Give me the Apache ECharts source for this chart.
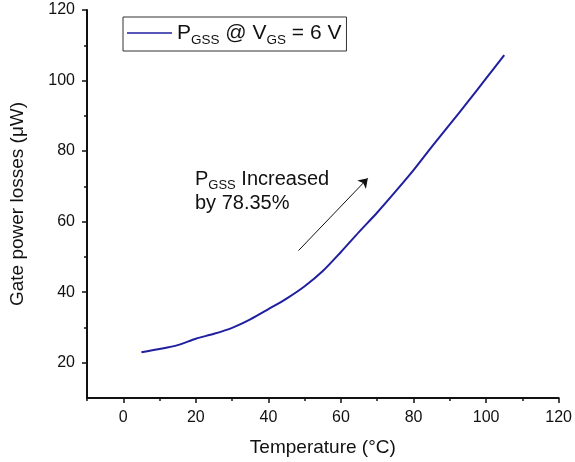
<!DOCTYPE html>
<html>
<head>
<meta charset="utf-8">
<script src="https://cdn.jsdelivr.net/npm/echarts@6/dist/echarts.min.js"></script>
<style>html,body{margin:0;padding:0;background:#fff}#c{width:575px;height:462px}</style>
</head>
<body>
<div id="c"></div>
<script>
var temperature = [5, 10, 15, 20, 25, 30, 35, 40, 45, 50, 55, 60, 65, 70, 75, 80, 85, 90, 95, 100, 105];
var powerLoss = [23.0, 23.9, 25.0, 26.8, 28.2, 29.9, 32.3, 35.2, 38.2, 41.7, 46.0, 51.4, 57.1, 62.6, 68.5, 74.6, 81.2, 87.6, 94.0, 100.6, 107.2];
var xTicks = [0, 20, 40, 60, 80, 100, 120];
var xMinorTicks = [-10, 10, 30, 50, 70, 90, 110];
var yTicks = [20, 40, 60, 80, 100, 120];
var yMinorTicks = [30, 50, 70, 90, 110];
var arrowStart = [48.3, 51.8];
var arrowEnd = [67.4, 72.3];

var FONT = 'Liberation Sans, Arial, sans-serif';
var chart = echarts.init(document.getElementById('c'));
var seriesData = temperature.map(function (t, i) { return [t, powerLoss[i]]; });

var richStyles = {
  n: { fontSize: 21, fontFamily: FONT, color: '#111', lineHeight: 24, verticalAlign: 'middle' },
  s: { fontSize: 13.5, fontFamily: FONT, color: '#111', lineHeight: 13, verticalAlign: 'top', padding: [12, 0, 0, 0] }
};
var richAnno = {
  n: { fontSize: 20, fontFamily: FONT, color: '#111', lineHeight: 24, verticalAlign: 'middle' },
  s: { fontSize: 13, fontFamily: FONT, color: '#111', lineHeight: 13, verticalAlign: 'top', padding: [12, 0, 0, 0] }
};

function baseX(extra) {
  return Object.assign({
    type: 'value', min: -10, max: 120, gridIndex: 0, position: 'bottom', offset: 0,
    splitLine: { show: false }
  }, extra);
}
function baseY(extra) {
  return Object.assign({
    type: 'value', min: 10, max: 120, gridIndex: 0, position: 'left', offset: 0,
    splitLine: { show: false }
  }, extra);
}

chart.setOption({
  animation: false,
  backgroundColor: '#fff',
  grid: { left: 81, right: 12, top: 10, bottom: 64, containLabel: false },
  legend: {
    left: 123, top: 17,
    padding: [4, 5, 4, 4],
    borderColor: '#333', borderWidth: 1,
    itemWidth: 45, itemHeight: 14,
    formatter: function () { return '{n|P}{s|GSS}{n| @ V}{s|GS}{n| = 6 V}'; },
    textStyle: { rich: richStyles, fontFamily: FONT },
    data: [{ name: 'PGSS @ VGS = 6 V', icon: 'path://M0,0 L45,0 L45,1.6 L0,1.6 Z', itemStyle: { color: '#1f1fa0' } }]
  },
  xAxis: [
    baseX({
      name: 'Temperature (°C)', nameLocation: 'middle', nameGap: 40,
      nameTextStyle: { fontSize: 19, fontFamily: FONT, color: '#111' },
      axisLine: { show: true, onZero: false, lineStyle: { color: '#111', width: 2 } },
      axisTick: { show: true, inside: false, length: 5, customValues: xTicks, lineStyle: { color: '#111', width: 1.5 } },
      axisLabel: { show: true, margin: 12, customValues: xTicks, fontSize: 16, fontFamily: FONT, color: '#111' }
    }),
    baseX({
      axisLine: { show: false, onZero: false },
      axisTick: { show: true, inside: false, length: 3, customValues: xMinorTicks, lineStyle: { color: '#111', width: 1.5 } },
      axisLabel: { show: false }
    })
  ],
  yAxis: [
    baseY({
      name: 'Gate power losses (μW)', nameLocation: 'middle', nameGap: 60, nameRotate: 90,
      nameTextStyle: { fontSize: 19, fontFamily: FONT, color: '#111' },
      axisLine: { show: true, onZero: false, lineStyle: { color: '#111', width: 2 } },
      axisTick: { show: true, inside: false, length: 5, customValues: yTicks, lineStyle: { color: '#111', width: 1.5 } },
      axisLabel: { show: true, margin: 12, customValues: yTicks, fontSize: 16, fontFamily: FONT, color: '#111' }
    }),
    baseY({
      axisLine: { show: false, onZero: false },
      axisTick: { show: true, inside: false, length: 3, customValues: yMinorTicks, lineStyle: { color: '#111', width: 1.5 } },
      axisLabel: { show: false }
    })
  ],
  series: [{
    name: 'PGSS @ VGS = 6 V',
    type: 'line',
    xAxisIndex: 0, yAxisIndex: 0,
    data: seriesData,
    showSymbol: false, symbol: 'none',
    smooth: 0.3,
    lineStyle: { color: '#1f1fa0', width: 2 },
    itemStyle: { color: '#1f1fa0' },
    markLine: {
      silent: true,
      symbol: ['none', 'arrow'],
      symbolSize: 9,
      label: { show: false },
      lineStyle: { color: '#111', width: 1, type: 'solid' },
      data: [[{ coord: arrowStart }, { coord: arrowEnd }]]
    }
  }],
  graphic: [{
    type: 'text',
    left: 195, top: 167,
    style: {
      text: '{n|P}{s|GSS}{n| Increased}\n{n|by 78.35%}',
      rich: richAnno,
      fill: '#111'
    }
  }]
});
</script>
</body>
</html>
